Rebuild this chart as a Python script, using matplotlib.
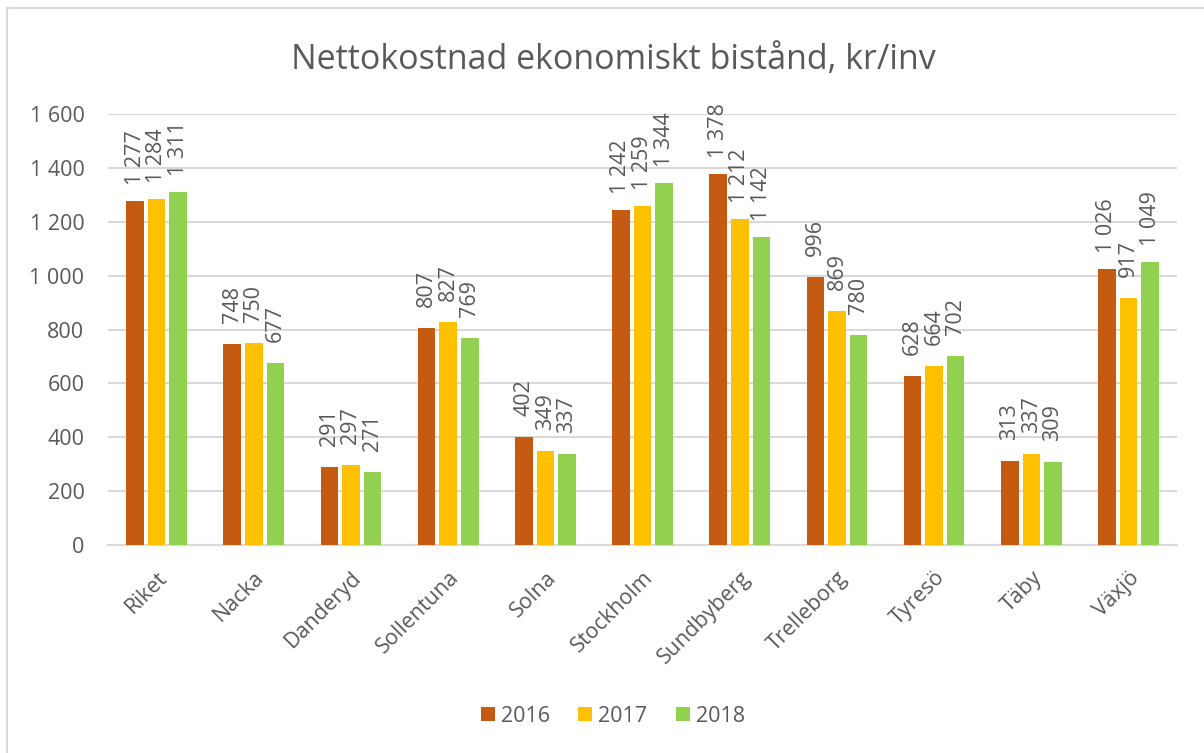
import numpy as np
from matplotlib import pyplot as plt
from matplotlib.lines import Line2D

categories = ['Riket', 'Nacka', 'Danderyd', 'Sollentuna', 'Solna', 'Stockholm',
              'Sundbyberg', 'Trelleborg', 'Tyresö', 'Täby', 'Växjö']
years = ['2016', '2017', '2018']
v2016 = [1277, 748, 291, 807, 402, 1242, 1378, 996, 628, 313, 1026]
v2017 = [1284, 750, 297, 827, 349, 1259, 1212, 869, 664, 337, 917]
v2018 = [1311, 677, 271, 769, 337, 1344, 1142, 780, 702, 309, 1049]
colors = ['#C55A11', '#FFC000', '#92D050']

plt.rcParams['font.family'] = ['Open Sans', 'DejaVu Sans']
grey = '#595959'
fs = 15.5


def fmt(v):
    return '{:,}'.format(v).replace(',', ' ')


fig = plt.figure(figsize=(12.04, 7.53), dpi=100)
ax = fig.add_axes([0.0897, 0.2762, 0.888, 0.5724])

x = np.arange(len(categories))
w = 0.18
step = 0.222
for i, (vals, c) in enumerate(zip([v2016, v2017, v2018], colors)):
    pos = x + (i - 1) * step
    ax.bar(pos, vals, width=w, color=c, label=years[i], zorder=3)
    for p, v in zip(pos, vals):
        off = 11.5 if v >= 1000 else 15
        ax.annotate(fmt(v), (p, v), xytext=(0, off), textcoords='offset points',
                    rotation=90, ha='center', va='bottom', fontsize=fs,
                    color=grey)

ax.set_xlim(-0.5, len(categories) - 0.5)
ax.set_ylim(0, 1600)
ax.set_yticks(range(0, 1601, 200))
ax.set_yticklabels([fmt(t) for t in range(0, 1601, 200)], fontsize=fs, color=grey)
ax.set_xticks(x)
ax.set_xticklabels(categories, rotation=45, ha='right', rotation_mode='anchor',
                   fontsize=fs, color=grey)
ax.tick_params(axis='both', length=0)
ax.tick_params(axis='y', pad=17)
ax.tick_params(axis='x', pad=16)
ax.grid(axis='y', color='#D9D9D9', linewidth=1.5, zorder=0)
for s in ['top', 'right', 'left']:
    ax.spines[s].set_visible(False)
ax.spines['bottom'].set_color('#D9D9D9')
ax.spines['bottom'].set_linewidth(1.5)

fig.text(0.5096, 0.92, 'Nettokostnad ekonomiskt bistånd, kr/inv', ha='center',
         va='center', fontsize=24.5, color=grey)

ax.legend(loc='center', bbox_to_anchor=(0.509, 0.049), bbox_transform=fig.transFigure,
          ncol=3, frameon=False, fontsize=fs, handlelength=0.65, handleheight=0.65,
          handletextpad=0.3, columnspacing=1.3, labelcolor=grey)

fig.add_artist(Line2D([0.0058, 0.0058], [0, 0.9894], color='#D9D9D9', lw=1.5,
                      transform=fig.transFigure))
fig.add_artist(Line2D([0.0058, 1], [0.9894, 0.9894], color='#D9D9D9', lw=1.5,
                      transform=fig.transFigure))

fig.savefig('out.png', dpi=100)
